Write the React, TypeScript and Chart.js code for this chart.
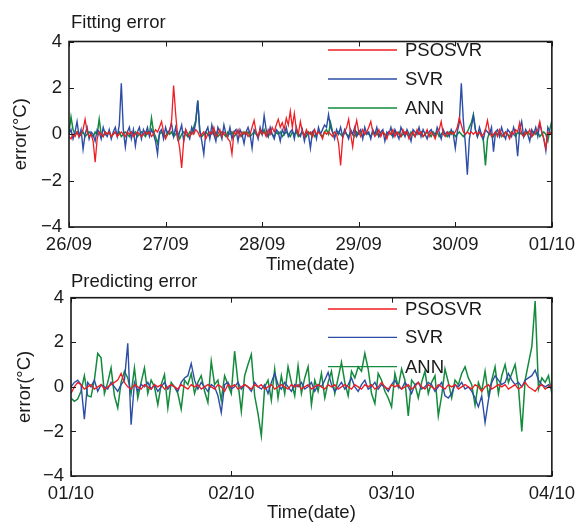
import React, { useEffect, useRef } from "react";
import { Chart, registerables } from "chart.js";

Chart.register(...registerables);

const FONT = '"Liberation Sans", Arial, Helvetica, sans-serif';
const TEXT_COLOR = "#1a1a1a";

const seriesNames = ["PSOSVR", "SVR", "ANN"];
const seriesColors = ["#f01e23", "#2d4ea6", "#138a3c"];
const seriesWidths = [1.3, 1.4, 1.5];

const yTickValues = [-4, -2, 0, 2, 4];
const pointsPerDay = 48; // half-hourly samples

const fitDateLabels = ["26/09", "27/09", "28/09", "29/09", "30/09", "01/10"];
const predDateLabels = ["01/10", "02/10", "03/10", "04/10"];

// ---- Fitting error (26/09 – 01/10) ----
const fitPSOSVR = [
  -0.1, -0.2, 0.0, -0.1, 0.1, -0.1, 0.0, 0.2, 0.65, 0.1,
  -0.1, 0.0, -0.3, -1.2, -0.2, 0.1, 0.0, -0.1, 0.1, 0.0,
  0.1, -0.1, 0.0, 0.1, -0.1, 0.0, 0.1, 0.0, -0.1, 0.1,
  0.0, 0.1, -0.1, 0.0, 0.1, 0.0, -0.1, 0.0, 0.1, 0.0,
  0.1, -0.1, 0.0, 0.2, 0.1, 0.3, 0.55, 0.1, -0.2, 0.0,
  0.1, 0.6, 2.1, 0.9, -0.1, -0.6, -1.45, -0.3, 0.2, 0.0,
  -0.1, 0.1, 0.0, 0.2, 0.1, -0.1, 0.0, 0.1, -0.2, 0.0,
  0.1, 0.0, 0.3, -0.1, 0.0, 0.2, -0.1, 0.1, 0.0, -0.2,
  -0.3, -0.85, 0.1, 0.0, 0.2, -0.1, 0.1, 0.0, 0.1, -0.1,
  0.0, 0.3, 0.6, 0.1, -0.1, 0.2, 0.0, 0.1, -0.1, 0.2,
  0.0, 0.3, 0.1, 0.4, 0.65, 0.3, 0.5, 0.2, 0.7, 0.4,
  1.0, 0.3, 0.9, 0.2, 0.0, 0.55, 0.1, -0.1, 0.2, 0.0,
  0.1, -0.1, 0.2, 0.0, 0.1, 0.0, -0.2, 0.1, 0.0, 0.1,
  0.0, -0.1, 0.1, 0.0, -0.4, -1.35, -0.2, 0.1, 0.3, 0.65,
  0.0, -0.55, 0.2, 0.6, 0.1, -0.1, 0.2, 0.0, 0.1, 0.3,
  0.55, 0.1, -0.1, 0.0, 0.2, -0.1, 0.1, 0.0, -0.2, 0.1,
  0.0, 0.2, -0.1, 0.1, 0.0, -0.1, 0.2, 0.0, 0.1, -0.2,
  0.0, 0.1, -0.1, 0.2, 0.0, 0.1, -0.1, 0.0, 0.2, -0.1,
  0.1, 0.0, -0.2, 0.1, 0.2, 0.55, 0.0, -0.1, 0.1, 0.0,
  0.1, 0.0, 0.1, 0.3, 0.7, 0.4, 0.1, 0.0, 0.1, 0.0,
  0.1, 0.0, 0.1, 0.0, 0.1, -0.1, 0.0, 0.2, 0.6, 0.1,
  -0.1, 0.0, 0.1, -0.1, 0.2, 0.0, -0.1, 0.1, 0.0, -0.2,
  0.1, 0.0, 0.2, 0.1, 0.5, 0.0, -0.1, 0.1, 0.0, 0.2,
  -0.1, 0.0, 0.1, 0.2, 0.55, 0.1, -0.2, -0.6, 0.1, 0.0,
  0.1,
];

const fitSVR = [
  0.0, 0.2, -0.2, 0.1, 0.55, -0.1, 0.2, -0.65, 0.0, 0.3,
  -0.2, 0.1, 0.0, -0.3, 0.2, 0.1, -0.2, 0.3, 0.0, -0.1,
  0.2, -0.2, 0.1, 0.3, -0.1, 0.4, 2.2, 0.2, -0.55, 0.1,
  0.3, -0.2, 0.2, -0.5, 0.1, 0.3, -0.2, 0.2, 0.0, 0.3,
  -0.1, 0.2, 0.0, -0.3, -0.85, 0.1, 0.2, -0.2, 0.3, 0.0,
  0.2, 0.45, -0.1, 0.3, -0.2, 0.1, 0.4, -0.3, 0.2, 0.0,
  -0.2, 0.3, 0.1, 0.5, 1.45, 0.2, -0.3, -0.85, 0.1, 0.3,
  -0.2, 0.4, 0.0, -0.3, 0.3, 0.1, -0.2, 0.4, 0.0, -0.1,
  0.3, -0.2, 0.1, 0.2, -0.3, 0.2, 0.0, -0.4, 0.1, 0.3,
  0.0, -0.6, 0.2, 0.1, -0.2, 0.3, 0.0, 0.8, 0.2, -0.1,
  0.3, 0.0, -0.2, 0.2, 0.1, -0.3, 0.2, 0.0, 0.3, -0.1,
  0.1, 0.2, -0.2, 0.3, 0.0, -0.1, 0.2, -0.3, 0.1, 0.0,
  -0.6, 0.1, 0.2, -0.2, 0.3, 0.0, 0.2, 0.4, 0.3, 0.85,
  0.3, 0.1, -0.2, 0.2, 0.0, 0.3, -0.1, 0.2, 0.0, -0.2,
  0.2, 0.0, 0.3, -0.1, 0.1, 0.2, -0.2, 0.3, 0.0, 0.1,
  -0.2, 0.2, 0.0, 0.3, -0.1, 0.1, 0.2, -0.3, 0.1, 0.0,
  0.3, -0.1, 0.2, 0.0, -0.2, 0.3, 0.1, -0.1, 0.2, 0.0,
  -0.3, 0.2, 0.1, 0.0, 0.3, -0.1, 0.2, 0.0, -0.2, 0.1,
  0.2, 0.0, -0.1, 0.3, 0.1, -0.2, 0.2, 0.0, 0.1, -0.1,
  0.2, 0.0, -0.6, 0.1, 0.5, 2.2, 0.6, -0.4, -1.75, -0.2,
  0.3, 0.8, 0.2, -0.1, 0.3, 0.0, -0.2, 0.2, 0.1, 0.0,
  0.3, -0.75, 0.1, 0.2, -0.1, 0.3, 0.0, -0.2, 0.2, 0.1,
  -0.1, 0.3, 0.0, -0.95, 0.2, 0.55, -0.1, 0.2, 0.0, -0.3,
  0.2, 0.0, 0.3, -0.1, 0.45, 0.1, -0.2, -0.7, 0.3, 0.1,
  0.0,
];

const fitANN = [
  0.1, 0.75, 0.2, 0.0, 0.1, -0.1, 0.0, 0.1, -0.1, 0.0,
  0.1, 0.0, -0.1, 0.1, 0.0, 0.65, 0.0, -0.1, 0.1, 0.0,
  0.1, -0.1, 0.0, 0.1, 0.0, 0.1, -0.1, 0.0, 0.1, 0.0,
  -0.1, 0.1, 0.0, 0.1, -0.1, 0.0, 0.1, 0.0, -0.1, 0.1,
  0.0, 0.7, 0.1, -0.1, -0.4, 0.0, 0.1, 0.0, -0.1, 0.1,
  0.0, 0.1, -0.1, 0.0, 0.1, -0.2, 0.0, 0.1, 0.0, -0.1,
  0.1, 0.0, 0.3, 0.6, 1.45, 0.1, -0.1, 0.0, 0.1, 0.0,
  -0.1, 0.1, 0.0, 0.1, -0.1, 0.0, 0.1, 0.0, -0.1, 0.1,
  0.0, 0.1, -0.1, 0.0, 0.1, 0.0, -0.1, 0.1, 0.0, 0.1,
  -0.1, 0.0, 0.1, 0.0, -0.1, 0.1, 0.0, 0.2, 0.0, -0.1,
  0.1, 0.0, -0.1, 0.1, 0.0, 0.1, -0.1, 0.0, 0.1, 0.0,
  -0.1, 0.1, 0.0, 0.1, -0.1, 0.0, 0.1, 0.0, -0.1, 0.1,
  0.0, 0.1, -0.1, 0.0, 0.1, 0.0, -0.1, 0.1, 0.2, 0.0,
  0.5, 0.1, -0.1, 0.0, 0.1, 0.0, -0.1, 0.1, 0.0, -0.1,
  0.1, 0.0, -0.1, 0.1, 0.0, 0.1, -0.1, 0.0, 0.1, 0.0,
  -0.1, 0.1, 0.0, 0.1, -0.1, 0.0, 0.1, 0.0, -0.1, 0.1,
  0.0, -0.1, 0.1, 0.0, 0.1, -0.1, 0.0, 0.1, 0.0, -0.1,
  0.1, 0.0, -0.1, 0.1, 0.0, 0.1, -0.1, 0.0, 0.1, 0.0,
  -0.1, 0.1, 0.0, 0.1, -0.1, 0.0, 0.1, 0.0, -0.1, 0.1,
  0.0, 0.1, -0.1, 0.0, 0.1, 0.0, -0.1, 0.0, 0.1, 0.3,
  0.5, 0.85, 0.2, -0.1, 0.1, 0.0, -0.3, -1.35, -0.2, 0.1,
  0.0, -0.1, 0.1, 0.0, 0.1, -0.1, 0.0, 0.1, 0.0, -0.1,
  0.1, 0.0, -0.1, 0.1, 0.0, 0.1, -0.1, 0.0, 0.1, 0.0,
  -0.1, 0.1, 0.0, 0.1, -0.1, 0.0, 0.1, 0.0, -0.3, 0.2,
  0.6,
];

// ---- Predicting error (01/10 – 04/10) ----
const predPSOSVR = [
  -0.3, 0.0, 0.2, 0.1, -0.1, 0.0, 0.1, -0.1, 0.0, 0.1,
  -0.1, 0.0, 0.1, 0.2, 0.3, 0.6, 0.2, 0.0, -0.1, 0.1,
  0.0, -0.1, 0.1, 0.0, -0.1, 0.1, 0.0, 0.1, -0.1, 0.0,
  0.1, 0.0, -0.1, 0.1, 0.0, -0.1, 0.1, 0.0, 0.1, -0.1,
  0.0, 0.1, 0.0, -0.1, 0.1, 0.0, -0.2, 0.1, 0.0, 0.1,
  -0.1, 0.0, 0.1, 0.0, -0.1, 0.1, 0.0, 0.1, -0.1, 0.0,
  0.1, -0.1, 0.0, 0.1, 0.0, -0.1, 0.1, 0.0, 0.1, -0.1,
  0.0, 0.1, -0.1, 0.0, 0.1, 0.0, -0.1, 0.1, 0.0, 0.1,
  -0.1, 0.0, 0.1, 0.0, -0.1, 0.1, 0.0, -0.1, 0.1, 0.0,
  0.1, -0.1, 0.0, 0.2, 0.0, -0.1, 0.1, 0.0, 0.1, -0.1,
  0.0, 0.1, -0.1, 0.0, 0.2, 0.0, -0.1, 0.1, 0.0, -0.1,
  0.1, 0.0, -0.1, 0.1, 0.0, 0.1, -0.1, 0.0, 0.1, 0.0,
  -0.1, 0.1, 0.0, -0.2, 0.0, 0.1, -0.1, 0.0, 0.1, 0.0,
  0.1, -0.1, 0.0, 0.1, -0.1, 0.0, 0.2, 0.0, -0.1, -0.2,
  0.0, 0.1, -0.1, 0.0, 0.1,
];

const predSVR = [
  0.0, 0.2, 0.3, 0.1, -1.45, 0.2, 0.0, 0.3, -0.2, 0.1,
  0.0, -0.1, 0.2, 0.0, -0.2, 0.1, 0.3, 1.95, -1.7, 0.2,
  -0.2, 0.1, 0.0, 0.2, -0.1, 0.1, -0.2, 0.0, 0.2, -0.1,
  0.1, 0.0, -0.2, 0.2, 0.4, 0.5, 1.05, 0.3, -0.1, 0.2,
  0.0, -0.2, 0.1, 0.0, -0.4, -1.15, 0.1, 0.2, -0.1, 0.0,
  0.2, -0.1, 0.1, 0.0, -0.2, 0.2, 0.0, -0.1, 0.1, -0.3,
  0.2, 0.6, 0.1, -0.1, 0.2, 0.0, -0.2, 0.1, 0.0, 0.2,
  -0.1, 0.0, 0.2, -0.2, 0.1, 0.0, 0.3, 0.65, 0.1, -0.2,
  0.0, 0.2, -0.1, 0.1, 0.4, 0.0, -0.2, 0.1, 0.3, -0.1,
  0.0, 0.2, -0.1, 0.1, 0.0, -0.2, 0.1, 0.3, 0.0, -0.1,
  0.2, 0.0, -0.3, 0.1, 0.2, -0.1, 0.0, 0.2, 0.1, -0.2,
  0.0, 0.2, -0.4, -0.5, -0.3, 0.1, 0.0, 0.2, -0.1, 0.0,
  -0.2, -0.5, -0.9, -0.4, -1.6, -0.6, 0.2, 0.5, 0.3, 0.1,
  0.2, 0.6, 0.3, 0.1, 0.2, 0.0, 0.3, 0.4, 0.5, 0.75,
  0.3, 0.1, 0.0, 0.1, -0.1,
];

const predANN = [
  -0.5, -0.65, -0.55, -0.2, 0.5, -0.4, -0.45, 0.3, 1.5, 1.3,
  -0.3, 0.2, 0.85, -0.4, -0.95, 0.2, 0.7, 0.4, -0.3, 0.85,
  -0.5, 0.2, 0.85, -0.3, 0.3, 0.0, -0.8, 0.1, 0.55, -0.95,
  0.2, 0.0, -0.3, -1.0, 0.3, 0.1, 0.6, -0.3, 0.2, 0.5,
  -0.2, -0.7, 1.15, 0.1, 0.3, -0.6, 0.5, 0.1, -0.3, 1.6,
  0.2, -1.1, 0.5, 1.0, 1.45, -0.4, -1.2, -2.2, 0.0, 0.3,
  -0.6, 0.8, -0.5, 0.5, -0.3, 0.9, 0.2, -0.4, 0.95, -0.3,
  0.4, 0.9, -0.8, 0.3, -0.2, 0.6, -0.5, 0.2, 0.7, -0.3,
  0.4, 1.1, 0.2, -0.4, 0.7, 0.4, 0.9, 0.7, 1.5, 0.8,
  -0.3, -0.75, 0.6, 0.3, -0.2, -0.5, -0.9, 0.6, 0.0, 0.8,
  0.3, -1.3, 0.3, 0.1, -0.5, 0.2, 0.7, -0.3, 0.2, 0.5,
  -1.3, -0.4, 0.8, 0.2, -0.5, 0.3, 0.1, 0.6, 0.9, 0.4,
  0.1, -0.82, 0.2, -0.2, 0.7, -0.4, 0.3, 0.9, -0.3, 0.5,
  1.0, 0.2, 0.6, 1.0, 0.0, -2.0, 0.3, 1.05, 1.8, 3.85,
  -0.1, 0.4, 0.2, 0.5, -0.3,
];

const fmtMinus = (v: number) => (v < 0 ? "\u2212" + Math.abs(v) : String(v));

const framePlugin = {
  id: "matlabFrame",
  afterDatasetsDraw(chart: any, _args: any, opts: any) {
    const { ctx, chartArea: a, scales } = chart;
    const xs = scales.x;
    const ys = scales.y;
    ctx.save();
    // inward tick marks on all four sides
    ctx.strokeStyle = TEXT_COLOR;
    ctx.lineWidth = 1;
    const tl = 5;
    ctx.beginPath();
    xs.ticks.forEach((t: any) => {
      const px = Math.round(xs.getPixelForValue(t.value)) + 0.5;
      ctx.moveTo(px, a.bottom);
      ctx.lineTo(px, a.bottom - tl);
      ctx.moveTo(px, a.top);
      ctx.lineTo(px, a.top + tl);
    });
    ys.ticks.forEach((t: any) => {
      const py = Math.round(ys.getPixelForValue(t.value)) + 0.5;
      ctx.moveTo(a.left, py);
      ctx.lineTo(a.left + tl, py);
      ctx.moveTo(a.right, py);
      ctx.lineTo(a.right - tl, py);
    });
    ctx.stroke();
    // axes box
    ctx.lineWidth = 1.6;
    ctx.strokeRect(a.left, a.top, a.right - a.left, a.bottom - a.top);

    // panel title
    ctx.fillStyle = TEXT_COLOR;
    ctx.font = `18.5px ${FONT}`;
    ctx.textBaseline = "middle";
    ctx.textAlign = "left";
    ctx.fillText(opts.title, opts.titleX, opts.titleY);

    // legend (no box)
    chart.data.datasets.forEach((ds: any, i: number) => {
      const y = opts.legendY[i];
      ctx.strokeStyle = ds.borderColor;
      ctx.lineWidth = 1.3;
      ctx.beginPath();
      ctx.moveTo(opts.legendX0, y);
      ctx.lineTo(opts.legendX1, y);
      ctx.stroke();
      ctx.fillStyle = TEXT_COLOR;
      ctx.fillText(ds.label, opts.legendTextX, y + 1);
    });
    ctx.restore();
  },
};

type PanelProps = {
  series: number[][];
  dateLabels: string[];
  title: string;
  top: number;
  height: number;
  plotTop: number;
  plotBottom: number;
  plotLeft: number;
  plotRight: number;
  yTitleOffset: number;
  xTitleBottom: number;
  titleY: number;
  legendY: number[];
};

function ErrorPanel(p: PanelProps) {
  const ref = useRef<HTMLCanvasElement | null>(null);
  useEffect(() => {
    if (!ref.current) return;
    const tickFont = { family: FONT, size: 18.5 };
    const nDays = p.dateLabels.length - 1;
    const chart = new Chart(ref.current, {
      type: "line",
      data: {
        datasets: p.series.map((arr, k) => ({
          label: seriesNames[k],
          data: arr.map((v, i) => ({ x: i, y: v })),
          borderColor: seriesColors[k],
          backgroundColor: seriesColors[k],
          borderWidth: seriesWidths[k],
          pointRadius: 0,
          tension: 0,
          fill: false,
        })),
      },
      options: {
        animation: false,
        responsive: false,
        devicePixelRatio: 1,
        layout: {
          padding: { top: p.plotTop, right: 582 - p.plotRight, left: 0, bottom: 0 },
        },
        plugins: {
          legend: { display: false },
          tooltip: { enabled: false },
          title: { display: false },
          matlabFrame: {
            title: p.title,
            titleX: 71,
            titleY: p.titleY,
            legendX0: 328,
            legendX1: 397,
            legendTextX: 405,
            legendY: p.legendY,
          },
        } as any,
        scales: {
          x: {
            type: "linear",
            min: 0,
            max: nDays * pointsPerDay,
            grid: { display: false, drawTicks: false },
            border: { display: false },
            afterBuildTicks: (s: any) => {
              s.ticks = p.dateLabels.map((_, k) => ({ value: k * pointsPerDay }));
            },
            ticks: {
              autoSkip: false,
              maxRotation: 0,
              minRotation: 0,
              padding: 7,
              color: TEXT_COLOR,
              font: tickFont,
              callback: (v: any) => p.dateLabels[Math.round(Number(v) / pointsPerDay)],
            },
            title: {
              display: true,
              text: "Time(date)",
              color: TEXT_COLOR,
              font: tickFont,
              padding: { top: 0, bottom: p.xTitleBottom },
            },
            afterFit: (s: any) => {
              s.height = p.height - p.plotBottom;
            },
          },
          y: {
            type: "linear",
            min: -4,
            max: 4,
            grid: { display: false, drawTicks: false },
            border: { display: false },
            afterBuildTicks: (s: any) => {
              s.ticks = yTickValues.map((v) => ({ value: v }));
            },
            ticks: {
              padding: 7,
              color: TEXT_COLOR,
              font: tickFont,
              callback: (v: any) => fmtMinus(Number(v)),
            },
            title: {
              display: true,
              text: "error(°C)",
              color: TEXT_COLOR,
              font: tickFont,
              padding: { top: p.yTitleOffset, bottom: 0 },
            },
            afterFit: (s: any) => {
              s.width = p.plotLeft;
            },
          },
        },
      } as any,
      plugins: [framePlugin as any],
    });
    return () => chart.destroy();
  }, []);
  return (
    <canvas
      ref={ref}
      width={582}
      height={p.height}
      style={{ position: "absolute", left: 0, top: p.top, display: "block" }}
    />
  );
}

export default function App() {
  return (
    <div
      style={{
        position: "absolute",
        left: 0,
        top: 0,
        width: 582,
        height: 527,
        background: "#ffffff",
        overflow: "hidden",
      }}
    >
      <ErrorPanel
        series={[fitPSOSVR, fitSVR, fitANN]}
        dateLabels={fitDateLabels}
        title="Fitting error"
        top={0}
        height={290}
        plotTop={41.5}
        plotBottom={227}
        plotLeft={69}
        plotRight={556}
        yTitleOffset={9.4}
        xTitleBottom={13.9}
        titleY={23}
        legendY={[50, 79, 108]}
      />
      <ErrorPanel
        series={[predPSOSVR, predSVR, predANN]}
        dateLabels={predDateLabels}
        title="Predicting error"
        top={270}
        height={257}
        plotTop={27.7}
        plotBottom={206}
        plotLeft={71}
        plotRight={556}
        yTitleOffset={13.4}
        xTitleBottom={2.9}
        titleY={12}
        legendY={[39, 67.3, 96.7]}
      />
    </div>
  );
}
